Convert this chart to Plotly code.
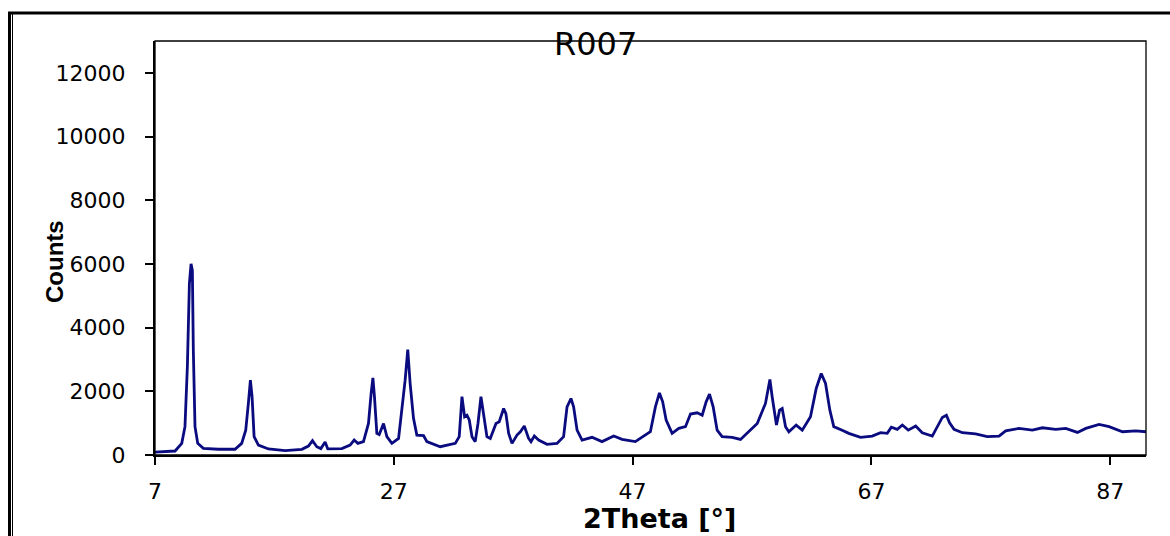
import plotly.graph_objects as go

# Data
two_theta = [7.0, 8.0, 8.68, 9.24, 9.51, 9.71, 9.88, 10.02, 10.13, 10.21, 10.35, 10.58, 11.05,
             12.31, 13.7, 14.26, 14.6, 14.82, 14.99, 15.13, 15.3, 15.66, 16.5, 17.9, 19.3, 19.85,
             20.19, 20.55, 20.89, 21.25, 21.47, 22.65, 23.34, 23.68, 23.99, 24.46, 24.88, 25.1,
             25.25, 25.38, 25.58, 25.78, 26.14, 26.42, 26.84, 27.4, 27.73, 27.95, 28.17, 28.37,
             28.65, 28.93, 29.49, 29.77, 30.89, 32.15, 32.48, 32.71, 32.93, 33.13, 33.32, 33.55,
             33.82, 34.05, 34.3, 34.52, 34.8, 35.08, 35.56, 35.83, 36.2, 36.39, 36.62, 36.9,
             37.32, 37.6, 37.93, 38.29, 38.49, 38.77, 39.13, 39.83, 40.67, 41.22, 41.51, 41.84,
             42.06, 42.35, 42.77, 43.6, 44.44, 45.42, 46.12, 47.23, 48.07, 48.49, 48.91, 49.25,
             49.52, 49.81, 50.31, 50.87, 51.43, 51.85, 52.41, 52.83, 53.16, 53.44, 53.75, 54.08,
             54.5, 55.34, 56.04, 56.6, 57.44, 58.13, 58.5, 58.69, 59.05, 59.31, 59.53, 59.81,
             60.09, 60.7, 61.21, 61.9, 62.38, 62.8, 63.16, 63.52, 63.85, 64.55, 65.11, 66.09,
             67.07, 67.77, 68.33, 68.67, 69.17, 69.59, 70.09, 70.71, 71.26, 72.1, 72.52, 72.94,
             73.28, 73.55, 73.92, 74.62, 75.73, 76.71, 77.69, 78.25, 79.36, 80.48, 81.32, 82.44,
             83.28, 84.26, 84.96, 86.07, 86.91, 88.03, 89.14, 90.0]
counts = [90, 110, 125, 365, 890, 2770, 5380, 6005, 5800, 3290, 890, 365, 210,
          180, 180, 365, 780, 1620, 2350, 1830, 575, 313, 190, 135, 180, 280,
          450, 260, 200, 410, 190, 200, 313, 470, 365, 420, 990, 1930,
          2420, 1830, 680, 640, 990, 575, 365, 520, 1510, 2350, 3310, 2245,
          1150, 625, 610, 420, 260, 365, 575, 1830, 1200, 1250, 1100, 575,
          420, 990, 1830, 1300, 575, 520, 990, 1045, 1460, 1300, 680, 365,
          625, 730, 910, 520, 420, 595, 470, 335, 365, 575, 1510, 1775,
          1510, 780, 470, 555, 420, 595, 490, 420, 625, 730, 1510, 1950,
          1670, 1100, 680, 835, 890, 1285, 1325, 1250, 1670, 1910, 1510, 780,
          575, 555, 490, 680, 990, 1620, 2370, 1830, 940, 1410, 1460, 890,
          730, 940, 780, 1200, 2090, 2560, 2245, 1410, 890, 780, 680, 555,
          595, 700, 680, 870, 805, 940, 780, 910, 700, 595, 890, 1180,
          1250, 1010, 805, 700, 660, 575, 595, 760, 835, 780, 855, 805,
          835, 710, 835, 960, 890, 730, 760, 730]

x_ticks = [7, 27, 47, 67, 87]
y_ticks = [0, 2000, 4000, 6000, 8000, 10000, 12000]

W, H = 1170, 536
L, R, T, B = 155, 1146, 41, 455  # plot area pixels


def px(xp):
    return (xp - L) / (R - L)


def py(yp):
    return (B - yp) / (B - T)


fig = go.Figure()
fig.add_trace(go.Scatter(x=two_theta, y=counts, mode="lines",
                         line=dict(color="#0b0b80", width=2.8), showlegend=False))

tick_font = dict(family="DejaVu Sans", size=22, color="black")

fig.update_layout(
    width=W, height=H,
    margin=dict(l=L, r=W - R, t=T, b=H - B, pad=0),
    paper_bgcolor="white", plot_bgcolor="white",
    showlegend=False,
    xaxis=dict(range=[7, 90], tickvals=x_ticks, ticktext=[str(v) for v in x_ticks],
               showgrid=False, zeroline=False, showline=True, linecolor="black", linewidth=2,
               ticks="outside", ticklen=8, tickwidth=2, tickcolor="black",
               tickfont=tick_font, ticklabelstandoff=8),
    yaxis=dict(range=[0, 13000], tickvals=y_ticks, ticktext=[str(v) for v in y_ticks],
               showgrid=False, zeroline=False, showline=True, linecolor="black", linewidth=2,
               ticks="outside", ticklen=8, tickwidth=1.5, tickcolor="black",
               tickfont=tick_font, ticklabelstandoff=15),
)

# plot-area frame (thin top/right)
fig.add_shape(type="rect", xref="paper", yref="paper", x0=0, x1=1, y0=0, y1=1,
              line=dict(color="black", width=1.3), layer="above")

# outer border of the original picture (top thick line, left double line)
fig.add_shape(type="line", xref="paper", yref="paper",
              x0=px(8), x1=px(1172), y0=py(13), y1=py(13),
              line=dict(color="black", width=3))
fig.add_shape(type="line", xref="paper", yref="paper",
              x0=px(9.5), x1=px(9.5), y0=py(12), y1=py(540),
              line=dict(color="black", width=3))
fig.add_shape(type="line", xref="paper", yref="paper",
              x0=px(12.5), x1=px(12.5), y0=py(13), y1=py(540),
              line=dict(color="black", width=1))

# titles
fig.add_annotation(text="R007", xref="paper", yref="paper", x=px(595), y=py(44),
                   showarrow=False, xanchor="center", yanchor="middle",
                   font=dict(family="DejaVu Sans", size=32, color="black"))
fig.add_annotation(text="<b>2Theta [°]</b>", xref="paper", yref="paper", x=px(659), y=py(518),
                   showarrow=False, xanchor="center", yanchor="middle",
                   font=dict(family="DejaVu Sans", size=27, color="black"))
fig.add_annotation(text="<b>Counts</b>", xref="paper", yref="paper", x=px(54), y=py(262),
                   showarrow=False, xanchor="center", yanchor="middle", textangle=-90,
                   font=dict(family="Liberation Sans", size=24, color="black"))

fig.write_html("out.html",
               config={"displayModeBar": False},
               post_script="document.body.style.margin='0px';"
                           "document.body.style.overflow='hidden';")
